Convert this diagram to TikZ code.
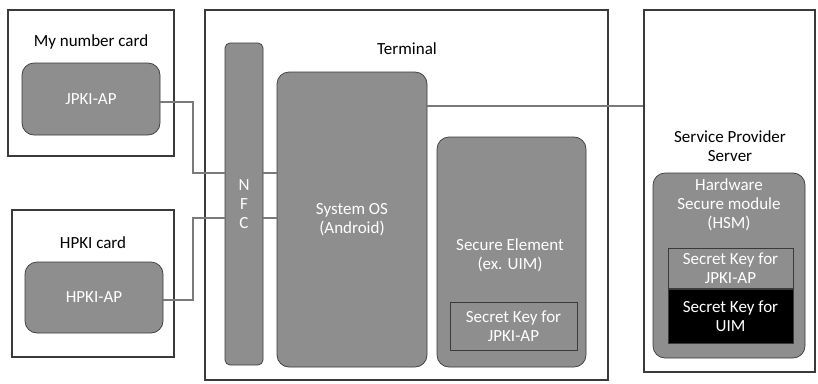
\documentclass[tikz,border=0pt]{standalone}
\usepackage{fontspec}
\setmainfont{Carlito}
\usepackage{xcolor}
\definecolor{boxgray}{HTML}{8E8E8E}
\definecolor{edgegray}{HTML}{3A3A3A}
\definecolor{linkgray}{HTML}{7A7A7A}

\begin{document}
\begin{tikzpicture}[x=1pt, y=-1pt,
    font=\fontsize{17pt}{19pt}\selectfont,
    outer/.style={draw=edgegray, line width=2.6pt, fill=white, minimum width=#1},
    part/.style={draw=edgegray, line width=0.7pt, fill=boxgray, rounded corners=12pt,
                 text=white, align=center, inner sep=0pt},
    keybox/.style={draw=edgegray, line width=0.7pt, align=center, text=white, inner sep=0pt},
    link/.style={linkgray, line width=2pt}]

    \useasboundingbox (0,0) rectangle (818,383);

    % Cards on the left
    \node[outer=166pt, minimum height=146pt] (mycard) at (91, 83) {};
    \node at (91, 42) {My number card};
    \node[part, minimum width=138pt, minimum height=72pt] (jpki) at (91, 99) {JPKI-AP};

    \node[outer=162pt, minimum height=147pt] (hpkicard) at (93, 283.5) {};
    \node at (93, 243) {HPKI card};
    \node[part, minimum width=138pt, minimum height=71pt] (hpki) at (94, 297.5) {HPKI-AP};

    % Terminal
    \node[outer=403pt, minimum height=370pt] (terminal) at (406.5, 195) {};
    \node at (407, 49) {Terminal};
    \node[part, rounded corners=5pt, minimum width=38pt, minimum height=322pt] (nfc) at (244, 204)
        {\fontsize{17pt}{16pt}\selectfont N\\F\\C};
    \node[part, minimum width=150pt, minimum height=295pt] (sysos) at (352, 219.5) {};
    \node[align=center, text=white] at (352, 220) {System OS\\(Android)};
    \node[part, minimum width=149pt, minimum height=230pt] (se) at (511.5, 252) {};
    \node[align=center, text=white] at (510, 255) {Secure Element\\(ex. UIM)};
    \node[keybox, minimum width=127pt, minimum height=48pt] (sekey) at (513.5, 326)
        {Secret Key for\\JPKI-AP};

    % Server
    \node[outer=171pt, minimum height=362pt] (server) at (729.5, 191) {};
    \node[align=center] at (730, 146) {Service Provider\\Server};
    \node[part, minimum width=152pt, minimum height=185pt] (hsm) at (729, 265.5) {};
    \node[align=center, text=white] at (729, 205) {Hardware\\Secure module\\(HSM)};
    \node[keybox, minimum width=125pt, minimum height=40pt] (hsmkey) at (730.5, 268)
        {Secret Key for\\JPKI-AP};
    \node[keybox, fill=black, minimum width=125pt, minimum height=54pt] (uimkey) at (730.5, 316)
        {Secret Key for\\UIM};

    % Connections
    \coordinate (nfcA) at ([yshift=31pt]nfc.west);
    \coordinate (nfcB) at ([yshift=-14pt]nfc.west);
    \draw[link] ([yshift=-3pt]jpki.east) -- ++(33,0) |- (nfcA);
    \draw[link] ([yshift=-2.5pt]hpki.east) -- ++(30,0) |- (nfcB);
    \draw[link] (nfcA -| nfc.east) -- (nfcA -| sysos.west);
    \draw[link] (nfcB -| nfc.east) -- (nfcB -| sysos.west);
    \draw[link] (sysos.east |- 0,106) -- (server.west |- 0,106);

\end{tikzpicture}
\end{document}
